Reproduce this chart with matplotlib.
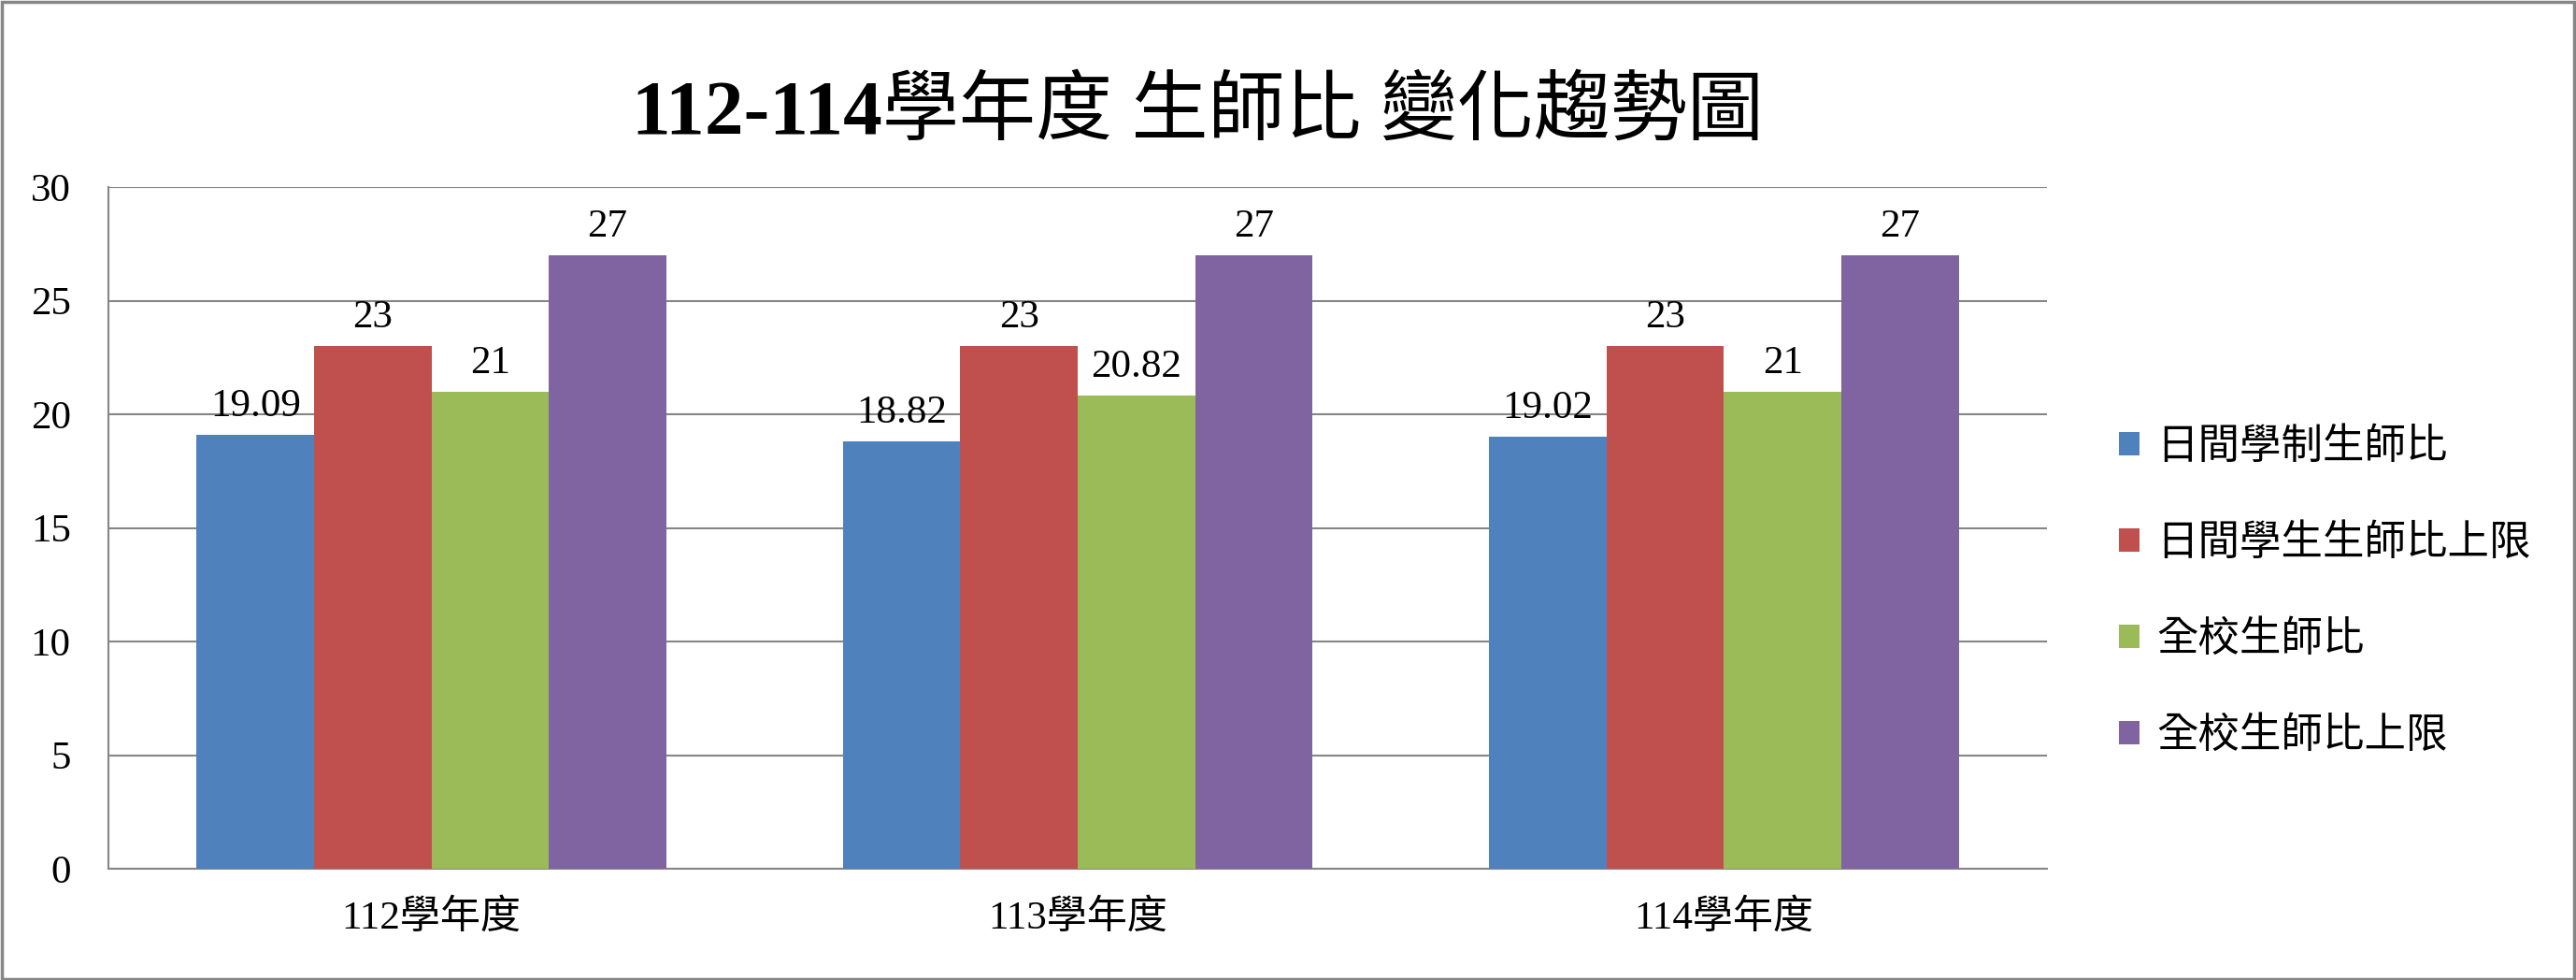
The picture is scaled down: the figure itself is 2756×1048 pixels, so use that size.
import numpy as np
import matplotlib.pyplot as plt
from matplotlib.patches import Rectangle

categories = ['112學年度', '113學年度', '114學年度']
series_names = ['日間學制生師比', '日間學生生師比上限', '全校生師比', '全校生師比上限']
day_ratio = [19.09, 18.82, 19.02]
day_limit = [23, 23, 23]
school_ratio = [21, 20.82, 21]
school_limit = [27, 27, 27]
label_texts = [
    ['19.09', '18.82', '19.02'],
    ['23', '23', '23'],
    ['21', '20.82', '21'],
    ['27', '27', '27'],
]
colors = ['#4F81BD', '#C0504D', '#9BBB59', '#8064A2']

fonts = ['Liberation Serif', 'Noto Sans CJK TC', 'DejaVu Sans']
plt.rcParams['font.family'] = fonts

W, H = 2756, 1048
fig = plt.figure(figsize=(W / 100, H / 100), dpi=100)
ax = fig.add_axes([116 / W, 1 - 929 / H, (2190 - 116) / W, (929 - 200) / H])

series = [day_ratio, day_limit, school_ratio, school_limit]
x = np.arange(len(categories))
bw = 0.1817
for i, vals in enumerate(series):
    pos = x + (i - 1.5) * bw
    bars = ax.bar(pos, vals, bw, color=colors[i], label=series_names[i], zorder=3)
    for b, t in zip(bars, label_texts[i]):
        ax.annotate(t, (b.get_x() + b.get_width() / 2, b.get_height()),
                    xytext=(0, 8), textcoords='offset points',
                    ha='center', va='bottom', fontsize=31, zorder=4)

ax.set_xlim(-0.5, 2.5)
ax.set_ylim(0, 30)
ax.set_yticks(range(0, 31, 5))
ax.set_xticks(x)
ax.set_xticklabels(categories)
ax.tick_params(axis='y', length=0, pad=29, labelsize=31)
ax.tick_params(axis='x', length=0, pad=24, labelsize=31)
ax.yaxis.grid(True, color='#868686', lw=1.5, zorder=0)
for s in ['top', 'right']:
    ax.spines[s].set_visible(False)
for s in ['left', 'bottom']:
    ax.spines[s].set_color('#868686')
    ax.spines[s].set_linewidth(1.5)

leg = ax.legend(loc='center left', bbox_to_anchor=(2267 / W, 1 - 633 / H),
                bbox_transform=fig.transFigure, frameon=False, fontsize=32,
                handlelength=0.5, handleheight=0.5, handletextpad=0.4,
                labelspacing=1.38, borderpad=0, borderaxespad=0)

# title: bold serif digits + CJK part
base_y = 1 - 143 / H
t1 = fig.text(0, base_y, '112-114', fontsize=60, fontweight='bold',
              family=fonts, ha='left', va='baseline')
t2 = fig.text(0, base_y, '學年度 生師比 變化趨勢圖', fontsize=59,
              family=fonts, ha='left', va='baseline')
fig.canvas.draw()
r = fig.canvas.get_renderer()
w1 = t1.get_window_extent(r).width
w2 = t2.get_window_extent(r).width
start = 1281 - (w1 + w2) / 2
t1.set_x(start / W)
t2.set_x((start + w1) / W)

fig.patches.append(Rectangle((0.0006, 0.001), 0.9988, 0.997, transform=fig.transFigure,
                             fill=False, edgecolor='#868686', lw=2.5))

fig.savefig('out.png', dpi=100)
